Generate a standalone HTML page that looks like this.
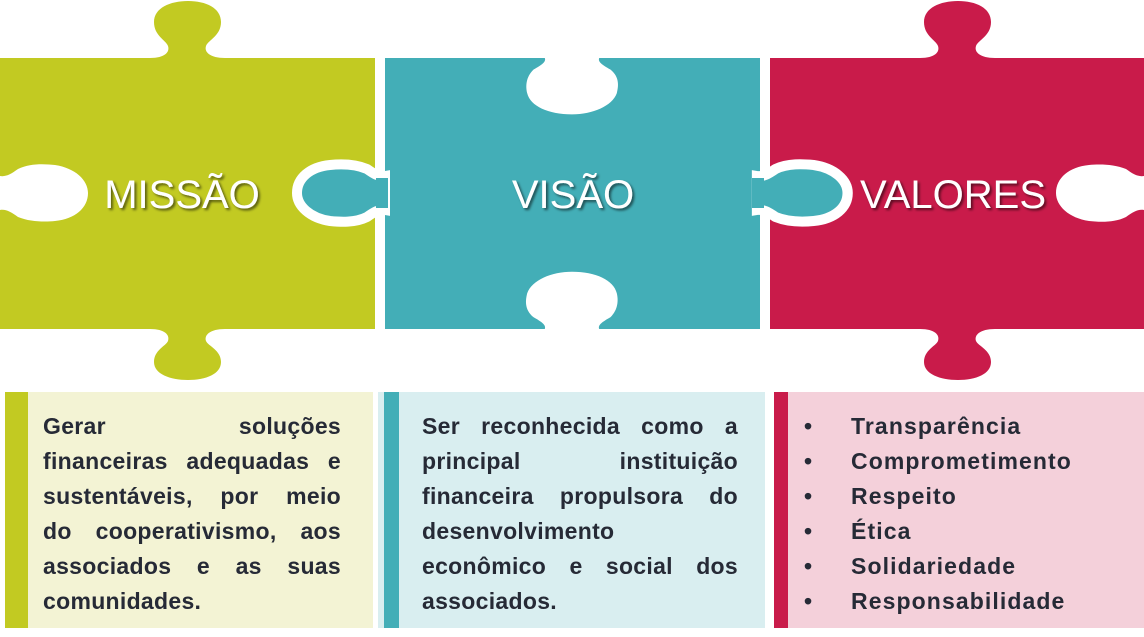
<!DOCTYPE html>
<html><head><meta charset="utf-8"><style>
html,body{margin:0;padding:0;background:#fff;}
body{width:1144px;height:637px;position:relative;overflow:hidden;font-family:"Liberation Sans",sans-serif;}
svg{position:absolute;left:0;top:0;}
.box{position:absolute;top:392px;height:236px;}
.bar{position:absolute;left:0;top:0;bottom:0;}
.txt{position:absolute;top:17px;font-weight:bold;font-size:23px;line-height:35px;color:#262a36;letter-spacing:0.3px;}
.txt div{text-align:justify;text-align-last:justify;white-space:nowrap;}
.txt div.l{text-align-last:left;}
.li{position:relative;padding-left:77px;white-space:nowrap;letter-spacing:1.1px;}
.li:before{content:"•";position:absolute;left:30px;}
</style></head><body>
<svg width="1144" height="400" viewBox="0 0 1144 400">
<defs>
<path id="k" d="M0,-17 C6,-16 11,-19 18,-24 C30,-30 45,-29 55,-28 C75,-25 88,-13 88,0 C88,15 75,26 55,28 C45,29 30,29 18,24 C11,19 6,16 0,17 Z"/>
<path id="tt" d="M150,58 C165,58 170,52 168,46 C166,40 154,36 154,22 C154,8 170,1 188,1 C206,1 221,8 221,22 C221,36 208,40 206,46 C204,52 210,58 225,58 Z"/>
<path id="tb" d="M150,329 C165,329 170,335 168,341 C166,346 154,350 154,362 C154,374 170,380 188,380 C206,380 221,374 221,362 C221,350 208,346 206,341 C204,335 210,329 225,329 Z"/>
<filter id="sh"><feDropShadow dx="2" dy="2" stdDeviation="1.2" flood-color="#000" flood-opacity="0.55"/></filter>
</defs>
<!-- green -->
<rect x="0" y="58" width="375" height="271" fill="#c2ca22"/>
<use href="#tt" fill="#c2ca22"/>
<use href="#tb" fill="#c2ca22"/>
<use href="#k" fill="#fff" transform="translate(0,193)"/>
<!-- teal -->
<rect x="385" y="58" width="375" height="271" fill="#43aeb7"/>
<use href="#k" fill="#fff" transform="translate(572,58) rotate(90) scale(0.64,1.6)"/>
<use href="#k" fill="#fff" transform="translate(572,329) rotate(-90) scale(0.65,1.6)"/>
<!-- red -->
<rect x="770" y="58" width="374" height="271" fill="#c91b4a"/>
<use href="#tt" fill="#c91b4a" transform="translate(770,0)"/>
<use href="#tb" fill="#c91b4a" transform="translate(770,0)"/>
<use href="#k" fill="#fff" transform="translate(1144,193) rotate(180)"/>
<!-- teal knob into green -->
<use href="#k" fill="#43aeb7" stroke="#fff" stroke-width="10" transform="translate(385,193) rotate(180)"/>
<rect x="376" y="178" width="12" height="30" fill="#43aeb7"/>
<!-- teal knob into red -->
<use href="#k" fill="#43aeb7" stroke="#fff" stroke-width="10" transform="translate(757,193) scale(1.03,1)"/>
<rect x="752" y="178" width="12" height="30" fill="#43aeb7"/>
<g font-family="Liberation Sans, sans-serif" font-size="40" fill="#fff" text-anchor="middle" filter="url(#sh)">
<text x="182" y="208">MISSÃO</text>
<text x="573" y="208">VISÃO</text>
<text x="953" y="208">VALORES</text>
</g>
</svg>

<div class="box" style="left:5px;width:368px;background:#f3f3d4;">
<div class="bar" style="width:23px;background:#c2ca22;"></div>
<div class="txt" style="left:38px;width:298px;">
<div>Gerar soluções</div>
<div>financeiras adequadas e</div>
<div>sustentáveis, por meio</div>
<div>do cooperativismo, aos</div>
<div>associados e as suas</div>
<div class="l">comunidades.</div>
</div></div>

<div class="box" style="left:378px;width:387px;background:#d9eef0;">
<div class="bar" style="left:6px;width:15px;background:#43aeb7;"></div>
<div class="txt" style="left:44px;width:316px;">
<div>Ser reconhecida como a</div>
<div>principal instituição</div>
<div>financeira propulsora do</div>
<div class="l">desenvolvimento</div>
<div>econômico e social dos</div>
<div class="l">associados.</div>
</div></div>

<div class="box" style="left:774px;width:370px;background:#f4d0da;">
<div class="bar" style="width:14px;background:#c91b4a;"></div>
<div class="txt" style="left:0;width:370px;">
<div class="li">Transparência</div>
<div class="li">Comprometimento</div>
<div class="li">Respeito</div>
<div class="li">Ética</div>
<div class="li">Solidariedade</div>
<div class="li">Responsabilidade</div>
</div></div>
</body></html>
